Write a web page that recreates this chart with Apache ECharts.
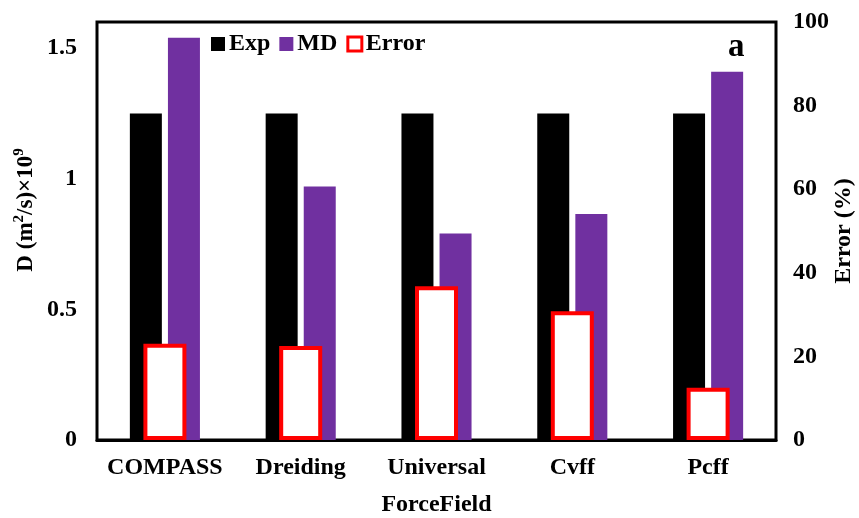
<!DOCTYPE html>
<html>
<head>
<meta charset="utf-8">
<script src="https://cdn.jsdelivr.net/npm/echarts@6/dist/echarts.min.js"></script>
<style>
  html, body { margin: 0; padding: 0; background: #fff; }
  #chart { width: 859px; height: 518px; }
</style>
</head>
<body>
<div id="chart"></div>
<script>
const categories = ['COMPASS', 'Dreiding', 'Universal', 'Cvff', 'Pcff']
const expValues = [1.25, 1.25, 1.25, 1.25, 1.25]
const mdValues = [1.54, 0.97, 0.79, 0.865, 1.41]
const errorValues = [23, 22.5, 36.8, 30.8, 12.5]
const leftTicks = [0, 0.5, 1, 1.5]
const rightTicks = [0, 20, 40, 60, 80, 100]

const font = 'Liberation Serif'
const labelStyle = { fontFamily: font, fontWeight: 'bold', fontSize: 24, color: '#000' }

const chart = echarts.init(document.getElementById('chart'))

chart.setOption({
  animation: false,
  textStyle: { fontFamily: font },
  grid: {
    left: 97, right: 83, top: 22, bottom: 78,
    outerBoundsMode: 'none',
    containLabel: false,
    show: true, borderColor: '#000', borderWidth: 3
  },
  title: {
    text: 'a', left: 723, top: 26,
    textStyle: { fontFamily: font, fontWeight: 'bold', fontSize: 33, color: '#000' }
  },
  legend: {
    left: 206, top: 27,
    itemWidth: 14, itemHeight: 14, itemGap: 9,
    icon: 'rect',
    textStyle: { ...labelStyle, padding: [0, 0, 0, -1] },
    data: ['Exp', 'MD', { name: 'Error', itemStyle: { borderWidth: 3 } }]
  },
  xAxis: [{
    type: 'category',
    data: categories,
    name: 'ForceField',
    nameLocation: 'middle',
    nameGap: 53,
    nameMoveOverlap: false,
    nameTextStyle: labelStyle,
    axisLine: { lineStyle: { color: '#000', width: 3 } },
    axisTick: { show: false },
    axisLabel: { ...labelStyle, margin: 16, interval: 0 }
  }, {
    type: 'category',
    data: categories,
    show: false
  }],
  yAxis: [{
    type: 'value',
    min: 0, max: 1.6, interval: 0.5,
    name: '{a|D (m}{s|2}{a|/s)×10}{s|9}',
    nameLocation: 'middle',
    nameGap: 59,
    nameMoveOverlap: false,
    nameRotate: 90,
    nameTextStyle: {
      padding: [0, 0, 0, 42],
      rich: {
        a: { ...labelStyle, fontSize: 23, lineHeight: 26, verticalAlign: 'bottom' },
        s: { ...labelStyle, fontSize: 15, lineHeight: 26, verticalAlign: 'top', padding: [0, 0, 11, 0] }
      }
    },
    axisLine: { show: false },
    axisTick: { show: false },
    splitLine: { show: false },
    axisLabel: {
      ...labelStyle, margin: 20, showMaxLabel: false,
      formatter: v => leftTicks.includes(Number(v.toFixed(2))) ? String(Number(v.toFixed(2))) : ''
    }
  }, {
    type: 'value',
    min: 0, max: 100, interval: 20,
    name: 'Error (%)',
    nameLocation: 'middle',
    nameGap: 56,
    nameMoveOverlap: false,
    nameRotate: 90,
    nameTextStyle: labelStyle,
    axisLine: { show: false },
    axisTick: { show: false },
    splitLine: { show: false },
    axisLabel: {
      ...labelStyle, margin: 17,
      formatter: v => rightTicks.includes(v) ? String(v) : ''
    }
  }],
  series: [{
    name: 'Exp',
    type: 'bar',
    data: expValues,
    barWidth: 32,
    barGap: '19%',
    itemStyle: { color: '#000' }
  }, {
    name: 'MD',
    type: 'bar',
    data: mdValues,
    barWidth: 32,
    itemStyle: { color: '#7030A0' }
  }, {
    name: 'Error',
    type: 'bar',
    xAxisIndex: 1,
    yAxisIndex: 1,
    data: errorValues,
    barWidth: 43,
    z: 3,
    itemStyle: { color: '#fff', borderColor: '#ff0000', borderWidth: 4 }
  }]
})
</script>
</body>
</html>
